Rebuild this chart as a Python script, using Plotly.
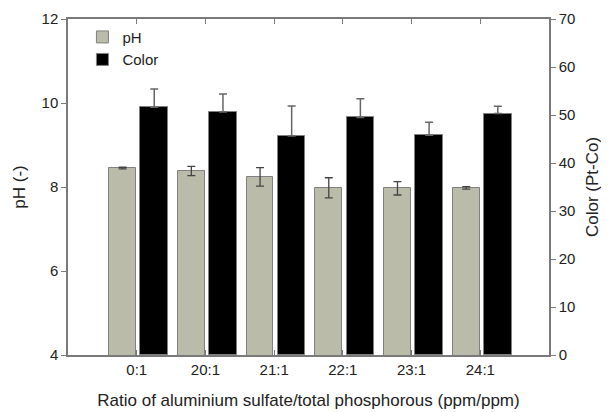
import plotly.graph_objects as go

categories = ["0:1", "20:1", "21:1", "22:1", "23:1", "24:1"]
ph_values = [8.45, 8.38, 8.24, 7.98, 7.97, 7.98]
ph_errors = [0.02, 0.11, 0.22, 0.24, 0.16, 0.03]
color_values = [51.6, 50.6, 45.6, 49.5, 45.8, 50.3]
color_errors = [3.8, 3.8, 6.3, 3.9, 2.7, 1.5]

x_pos = list(range(len(categories)))
FONT = "Liberation Sans, Arial, sans-serif"
AXIS_COLOR = "#7a7a7a"

fig = go.Figure()
fig.add_trace(go.Bar(
    x=x_pos, y=ph_values, name="pH", yaxis="y",
    width=0.39, offset=-0.40,
    marker=dict(color="#bbbba9", line=dict(color="#808080", width=1)),
    error_y=dict(type="data", array=ph_errors, visible=True,
                 color="#444444", thickness=1.3, width=4),
))
fig.add_trace(go.Bar(
    x=x_pos, y=color_values, name="Color", yaxis="y2",
    width=0.40, offset=0.055,
    marker=dict(color="#000000", line=dict(color="#808080", width=1)),
    error_y=dict(type="data", array=color_errors, arrayminus=[0] * len(color_errors),
                 symmetric=False, visible=True,
                 color="#666666", thickness=1.5, width=4),
))

fig.update_layout(
    width=601, height=404,
    margin=dict(l=60, r=60, t=11, b=57, autoexpand=False),
    paper_bgcolor="white", plot_bgcolor="white",
    font=dict(family=FONT, size=15, color="#222222"),
    showlegend=True,
    legend=dict(x=0.03, y=0.995, xanchor="left", yanchor="top",
                bgcolor="rgba(0,0,0,0)", font=dict(size=15),
                traceorder="normal", itemwidth=30, tracegroupgap=0),
    bargap=0,
    xaxis=dict(
        range=[-1, 6], tickvals=x_pos, ticktext=categories,
        showline=True, linecolor=AXIS_COLOR, linewidth=1.5, mirror="ticks",
        ticks="inside", ticklen=5, tickcolor=AXIS_COLOR, tickwidth=1,
        showgrid=False, zeroline=False, automargin=False,
        title=dict(text="Ratio of aluminium sulfate/total phosphorous (ppm/ppm)",
                   font=dict(size=17), standoff=17),
    ),
    yaxis=dict(
        range=[4, 12], tickvals=[4, 6, 8, 10, 12],
        showline=True, linecolor=AXIS_COLOR, linewidth=1.5,
        ticks="outside", ticklen=5, tickcolor=AXIS_COLOR, tickwidth=1,
        showgrid=False, zeroline=False, automargin=False,
        title=dict(text="pH (-)", font=dict(size=17), standoff=12),
    ),
    yaxis2=dict(
        range=[0, 70], tickvals=[0, 10, 20, 30, 40, 50, 60, 70],
        overlaying="y", side="right",
        showline=True, linecolor=AXIS_COLOR, linewidth=1.5,
        ticks="outside", ticklen=5, tickcolor=AXIS_COLOR, tickwidth=1,
        showgrid=False, zeroline=False, automargin=False,
        title=dict(text="Color (Pt-Co)", font=dict(size=17), standoff=12),
    ),
)

fig.write_html("out.html")
